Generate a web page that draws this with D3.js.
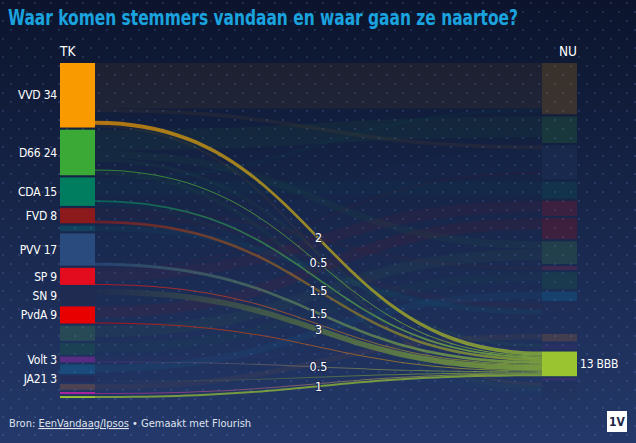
<!DOCTYPE html>
<html><head><meta charset="utf-8">
<script src="https://cdn.jsdelivr.net/npm/d3@7"></script>
<style>
html,body{margin:0;padding:0;background:#0f1a36;}
svg{display:block;}
</style></head><body>
<svg id="chart" width="636" height="443"></svg>
<script>
// ---- DATA ----
const leftNames  = ["VVD","D66","CDA","FVD","DENK","PVV","SP","SN","PvdA","GL","PvdD","Volt","CU","JA21","SGP","50PLUS","BBB"];
const leftSeats  = [34,24,15,8,3,17,9,9,9,8,6,3,5,3,3,1,1];
const leftColors = ["#f89a00","#3aa935","#007c5f","#8c1a1c","#00a89f","#2a4b7d","#e30c1e","#1f2b50","#e80000","#4fa845","#0f7a3c","#582c83","#00a2e0","#242c5a","#f07c1f","#b0249f","#9ac531"];

const rightNames  = ["VVD","D66","PVV","CDA","SP","PvdA","GL","BIJ1","PvdD","CU","Overig","SGP","Volt","BBB","50PLUS","SN"];
const rightSeats  = [27,14,18,9,8,11,12,2,9,5,15,4,3,13,1,9];
const rightColors = ["#f89a00","#3aa935","#2a4b7d","#007c5f","#e30c1e","#e80000","#4fa845","#e0204f","#0f7a3c","#00a2e0","#26315a","#f07c1f","#582c83","#9ac531","#b0249f","#1f2b50"];

// flows to BBB (highlighted)
const bbbFrom     = ["VVD","D66","CDA","FVD","PVV","SP","SN","PvdA","Volt","JA21","50PLUS","BBB"];
const bbbValues   = [2,0.5,1,1.5,1.5,0.5,3,0.5,0.5,0.5,0.5,1];
const bbbLabelled = [true,true,false,true,true,false,true,false,true,false,false,true];

// other (faded) flows
const otherFrom   = ["VVD","VVD","D66","D66","D66","CDA","CDA","FVD","FVD","PVV","SP","SP","SN","SN","PvdA","GL","PvdD","CU","JA21","SGP","Volt","DENK","VVD","D66","CDA"];
const otherTo     = ["VVD","PVV","D66","GL","Volt","CDA","VVD","BIJ1","Overig","PVV","SP","PVV","Overig","SN","PvdA","GL","PvdD","CU","Overig","SGP","Volt","Overig","SN","SN","SN"];
const otherValues = [24,2,11,4,2,7,2,2,3,12,6,1,4,5,6,6,5,4,2,3,2,3,1.5,2.5,2];

// ---- LAYOUT ----
const W = 636, H = 443;
const FONT = "'Liberation Sans Narrow','DejaVu Sans Condensed',sans-serif";
const colTop = 63, colBottom = 398, gap = 2.2, nodeW = 35;
const k = (colBottom - colTop - gap * (leftSeats.length - 1)) / d3.sum(leftSeats);
const h = d3.scaleLinear().domain([0, 1]).range([0, k]);
const x = d3.scaleLinear().domain([0, 1]).range([60, 542]);

function column(names, seats, colors, col) {
  let y0 = colTop;
  return names.map((n, i) => {
    const node = {name: n, seats: seats[i], color: colors[i], col, index: i,
      x0: x(col), x1: x(col) + nodeW, y0: y0, y1: y0 + h(seats[i]), outs: [], ins: []};
    y0 = node.y1 + gap;
    return node;
  });
}
const L = column(leftNames, leftSeats, leftColors, 0);
const R = column(rightNames, rightSeats, rightColors, 1);
const Lm = new Map(L.map(d => [d.name, d]));
const Rm = new Map(R.map(d => [d.name, d]));
const bbb = Rm.get("BBB");

const links = [];
otherFrom.forEach((s, i) => links.push({source: Lm.get(s), target: Rm.get(otherTo[i]), value: otherValues[i], hi: false}));
bbbFrom.forEach((s, i) => links.push({source: Lm.get(s), target: bbb, value: bbbValues[i], hi: true, labelled: bbbLabelled[i]}));
links.forEach(l => { l.source.outs.push(l); l.target.ins.push(l); });

L.forEach(n => {
  n.outs.sort((a, b) => a.target.index - b.target.index);
  let yt = n.y0;
  n.outs.filter(l => l.target.index < bbb.index).forEach(l => { l.sy0 = yt; yt += h(l.value); l.sy1 = yt; });
  let yb = n.y1;
  n.outs.filter(l => l.target.index >= bbb.index).reverse().forEach(l => { l.sy1 = yb; yb -= h(l.value); l.sy0 = yb; });
});
R.forEach(n => {
  n.ins.sort((a, b) => a.source.index - b.source.index);
  let yt = n.y0;
  n.ins.forEach(l => { l.ty0 = yt; yt += h(l.value); l.ty1 = yt; });
});

function band(l) {
  const x0 = l.source.x1, x1 = l.target.x0, xm = (x0 + x1) / 2;
  return `M${x0},${l.sy0}C${xm},${l.sy0} ${xm},${l.ty0} ${x1},${l.ty0}` +
         `L${x1},${l.ty1}C${xm},${l.ty1} ${xm},${l.sy1} ${x0},${l.sy1}Z`;
}

// ---- DRAW ----
const svg = d3.select("#chart");
const defs = svg.append("defs");
const bg = defs.append("linearGradient").attr("id", "bg").attr("x1", 0).attr("y1", 0).attr("x2", 0).attr("y2", 1);
bg.append("stop").attr("offset", "0%").attr("stop-color", "#0b142c");
bg.append("stop").attr("offset", "100%").attr("stop-color", "#24396a");
svg.append("rect").attr("width", W).attr("height", H).attr("fill", "url(#bg)");

const pat = defs.append("pattern").attr("id", "dots").attr("width", 16).attr("height", 18).attr("patternUnits", "userSpaceOnUse");
pat.append("circle").attr("cx", 3).attr("cy", 3).attr("r", 0.9).attr("fill", "#6a88d8").attr("opacity", 0.3);
pat.append("circle").attr("cx", 11).attr("cy", 12).attr("r", 0.9).attr("fill", "#6a88d8").attr("opacity", 0.3);
svg.append("rect").attr("width", W).attr("height", H).attr("fill", "url(#dots)");

// faded links
svg.append("g").selectAll("path").data(links.filter(l => !l.hi)).join("path")
  .attr("d", band).attr("fill", d => d.source.color).attr("fill-opacity", 0.06);

// highlighted links
links.filter(l => l.hi).forEach((l, i) => {
  const g = defs.append("linearGradient").attr("id", "lg" + i).attr("gradientUnits", "userSpaceOnUse")
    .attr("x1", l.source.x1).attr("x2", l.target.x0).attr("y1", 0).attr("y2", 0);
  g.append("stop").attr("offset", "0%").attr("stop-color", l.source.color);
  g.append("stop").attr("offset", "100%").attr("stop-color", l.target.color);
  l.grad = "url(#lg" + i + ")";
});
svg.append("g").selectAll("path").data(links.filter(l => l.hi)).join("path")
  .attr("d", band).attr("fill", d => d.grad).attr("fill-opacity", 0.7);

// nodes
const litLeft = new Set(bbbFrom);
svg.append("g").selectAll("rect").data(L).join("rect")
  .attr("x", d => d.x0).attr("y", d => d.y0).attr("width", nodeW).attr("height", d => d.y1 - d.y0)
  .attr("fill", d => d.color).attr("opacity", d => litLeft.has(d.name) ? 1 : 0.22);
svg.append("g").selectAll("rect").data(R).join("rect")
  .attr("x", d => d.x0).attr("y", d => d.y0).attr("width", nodeW).attr("height", d => d.y1 - d.y0)
  .attr("fill", d => d.color).attr("opacity", d => d === bbb ? 1 : 0.18);

// node labels
svg.append("g").selectAll("text").data(L.filter(d => litLeft.has(d.name) && d.seats >= 3)).join("text")
  .attr("x", d => d.x0 - 3).attr("y", d => (d.y0 + d.y1) / 2).attr("dy", "0.35em")
  .attr("text-anchor", "end").attr("fill", "#ffffff").attr("font-family", FONT).attr("font-size", 12)
  .attr("letter-spacing", -0.2)
  .text(d => `${d.name} ${d.seats}`);
svg.append("text").attr("x", bbb.x1 + 3).attr("y", (bbb.y0 + bbb.y1) / 2).attr("dy", "0.35em")
  .attr("fill", "#ffffff").attr("font-family", FONT).attr("font-size", 12).attr("letter-spacing", -0.2)
  .text(`${bbb.seats} ${bbb.name}`);

// flow value labels
svg.append("g").selectAll("text").data(links.filter(l => l.hi && l.labelled)).join("text")
  .attr("x", d => (d.source.x1 + d.target.x0) / 2)
  .attr("y", d => (d.sy0 + d.sy1 + d.ty0 + d.ty1) / 4).attr("dy", "0.35em")
  .attr("text-anchor", "middle").attr("fill", "#ffffff").attr("font-family", FONT).attr("font-size", 12.5)
  .attr("stroke", "#1a2750").attr("stroke-width", 2.5).attr("stroke-opacity", 0.7).attr("paint-order", "stroke")
  .text(d => String(d.value));

// column headers
svg.append("text").attr("x", x(0)).attr("y", 56).attr("fill", "#fff").attr("font-family", FONT).attr("font-size", 13.5).text("TK");
svg.append("text").attr("x", x(1) + nodeW).attr("y", 56).attr("text-anchor", "end").attr("fill", "#fff").attr("font-family", FONT).attr("font-size", 13.5).text("NU");

// title
svg.append("text").attr("x", 8).attr("y", 25).attr("fill", "#1aa3df").attr("font-family", FONT)
  .attr("font-weight", "bold").attr("font-size", 21)
  .attr("textLength", 510).attr("lengthAdjust", "spacingAndGlyphs")
  .text("Waar komen stemmers vandaan en waar gaan ze naartoe?");

// footer
const ft = svg.append("text").attr("x", 9).attr("y", 427).attr("fill", "#dfe3ee").attr("font-family", FONT).attr("font-size", 11);
ft.append("tspan").text("Bron: ");
ft.append("tspan").attr("text-decoration", "underline").text("EenVandaag/Ipsos");
ft.append("tspan").text(" \u2022 Gemaakt met Flourish");

// logo
svg.append("rect").attr("x", 607).attr("y", 411).attr("width", 20).attr("height", 21).attr("fill", "#ffffff");
svg.append("text").attr("x", 617).attr("y", 426).attr("text-anchor", "middle").attr("fill", "#1b2547")
  .attr("font-family", FONT).attr("font-weight", "bold").attr("font-size", 12).text("1V");
</script>
</body></html>
